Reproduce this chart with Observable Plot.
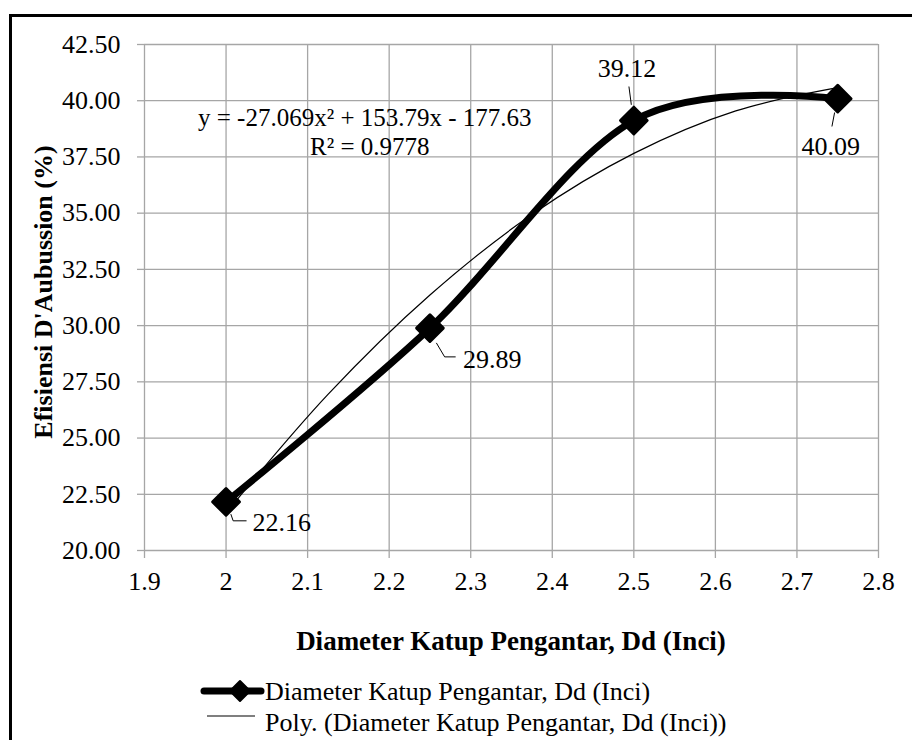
<!DOCTYPE html>
<html>
<head>
<meta charset="utf-8">
<script src="https://cdn.jsdelivr.net/npm/d3@7"></script>
<script src="https://cdn.jsdelivr.net/npm/@observablehq/plot@0.6"></script>
<style>
  html, body { margin: 0; padding: 0; background: #fff; overflow: hidden; width: 912px; height: 740px; }
  #frame { position: absolute; left: 9px; top: 14px; width: 1000px; height: 1000px; border: 3px solid #000; box-sizing: border-box; }
  #chart { position: absolute; left: 0; top: 0; }
  text { font-family: "Liberation Serif", "Times New Roman", serif; }
</style>
</head>
<body>
<div id="frame"></div>
<div id="chart"></div>
<script>
// ---- data ----
const diameters = [2, 2.25, 2.5, 2.75];
const efficiency = [22.16, 29.89, 39.12, 40.09];
const pointLabels = ["22.16", "29.89", "39.12", "40.09"];
// polynomial trendline
const trendX = [2, 2.125, 2.25, 2.375, 2.5, 2.625, 2.75];
const trendY = [21.67, 26.94, 31.36, 34.94, 37.66, 39.55, 40.58];
const xTicks = [1.9, 2, 2.1, 2.2, 2.3, 2.4, 2.5, 2.6, 2.7, 2.8];
const yTicks = [20, 22.5, 25, 27.5, 30, 32.5, 35, 37.5, 40, 42.5];
const xTitle = "Diameter Katup Pengantar, Dd (Inci)";
const yTitle = "Efisiensi D'Aubussion (%)";
const seriesName = "Diameter Katup Pengantar, Dd (Inci)";
const trendName = "Poly. (Diameter Katup Pengantar, Dd (Inci))";
const equationText = "y = -27.069x² + 153.79x - 177.63";
const r2Text = "R² = 0.9778";

const points = diameters.map((d, i) => ({x: d, y: efficiency[i], label: pointLabels[i]}));
const trend = trendX.map((d, i) => ({x: d, y: trendY[i]}));

const FONT = '"Liberation Serif", "Times New Roman", serif';
const GRID = "#a6a6a6";

const chart = Plot.plot({
  width: 912,
  height: 740,
  marginLeft: 144,
  marginRight: 34,
  marginTop: 44,
  marginBottom: 190,
  style: {fontFamily: FONT, fontSize: "26px", background: "transparent", color: "#000"},
  x: {domain: [1.9, 2.8], label: null},
  y: {domain: [20, 42.5], label: null},
  marks: [
    Plot.gridX(xTicks, {stroke: GRID, strokeOpacity: 1, strokeWidth: 1.3}),
    Plot.gridY(yTicks, {stroke: GRID, strokeOpacity: 1, strokeWidth: 1.3}),
    Plot.axisX({ticks: xTicks, tickFormat: d => String(+d.toFixed(1)), tickSize: 8, tickPadding: 13, stroke: GRID, strokeWidth: 1.3, fill: "#000", fontSize: 26, label: null}),
    Plot.axisY({ticks: yTicks, tickFormat: d3.format(".2f"), tickSize: 7, tickPadding: 17, stroke: GRID, strokeWidth: 1.3, fill: "#000", fontSize: 26, label: null}),
    Plot.line(trend, {x: "x", y: "y", stroke: "#000", strokeWidth: 1.2, curve: "catmull-rom"}),
    Plot.line(points, {x: "x", y: "y", stroke: "#000", strokeWidth: 7, curve: d3.curveCardinal.tension(0), strokeLinejoin: "round"}),
    Plot.dot(points, {x: "x", y: "y", symbol: "diamond2", r: 12, fill: "#000", stroke: "#000", strokeWidth: 3, strokeLinejoin: "round"})
  ]
});
document.getElementById("chart").appendChild(chart);

const svg = d3.select(chart);
const sx = chart.scale("x"), sy = chart.scale("y");

// data label placement (style, pixels relative to each point)
const labelOffsets = [[27, 30], [33.5, 40.6], [-35.7, -43], [-35.6, 56.6]];
const leaderPaths = [
  [[5.3, 12.7], [7.6, 19.4], [21, 19.4]],
  [[6.9, 15.3], [15.2, 29.3], [26.2, 29.3]],
  [[-4.4, -33.5], [-2, -15.2]],
  [[-2.6, 14.3], [-5.3, 28.3]]
];
const lbl = svg.append("g");
points.forEach((p, i) => {
  const px = sx.apply(p.x), py = sy.apply(p.y);
  lbl.append("polyline")
    .attr("points", leaderPaths[i].map(([a, b]) => `${px + a},${py + b}`).join(" "))
    .attr("fill", "none").attr("stroke", "#000").attr("stroke-width", 1);
  lbl.append("text")
    .attr("x", px + labelOffsets[i][0]).attr("y", py + labelOffsets[i][1])
    .attr("text-anchor", "start")
    .attr("font-size", 26).attr("fill", "#000").attr("font-family", FONT)
    .text(p.label);
});

// trendline equation
svg.append("text").attr("x", 198).attr("y", 126).attr("text-anchor", "start").attr("font-size", 25).attr("font-family", FONT).text(equationText);
svg.append("text").attr("x", 310).attr("y", 155).attr("text-anchor", "start").attr("font-size", 25).attr("font-family", FONT).text(r2Text);

// axis titles
svg.append("text").attr("x", 511).attr("y", 650).attr("text-anchor", "middle")
  .attr("font-size", 27).attr("font-weight", "bold").attr("font-family", FONT).text(xTitle);
svg.append("text").attr("transform", "translate(52,292) rotate(-90)").attr("text-anchor", "middle")
  .attr("font-size", 26).attr("font-weight", "bold").attr("font-family", FONT).text(yTitle);

// legend
const lg = svg.append("g");
lg.append("line").attr("x1", 204).attr("x2", 261).attr("y1", 691).attr("y2", 691).attr("stroke", "#000").attr("stroke-width", 7).attr("stroke-linecap", "round");
lg.append("path").attr("d", "M240,681L250,691L240,701L230,691Z").attr("fill", "#000").attr("stroke", "#000").attr("stroke-width", 2).attr("stroke-linejoin", "round");
lg.append("text").attr("x", 265).attr("y", 700).attr("text-anchor", "start").attr("font-size", 26).attr("font-family", FONT).text(seriesName);
lg.append("line").attr("x1", 207).attr("x2", 255).attr("y1", 716).attr("y2", 716).attr("stroke", "#000").attr("stroke-width", 1.2);
lg.append("text").attr("x", 265).attr("y", 731).attr("text-anchor", "start").attr("font-size", 26).attr("font-family", FONT).text(trendName);
</script>
</body>
</html>
